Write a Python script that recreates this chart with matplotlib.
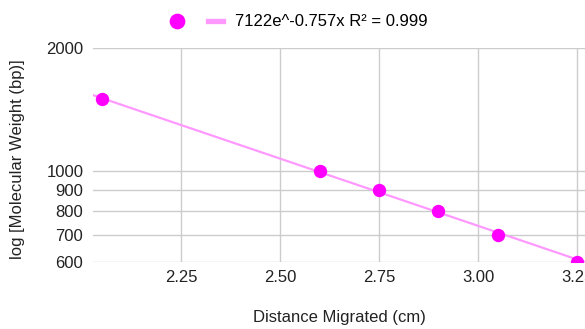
import numpy as np
from matplotlib import pyplot as plt
from matplotlib.lines import Line2D

plt.rcParams['font.family'] = ['Liberation Sans', 'DejaVu Sans']

distance = [2.05, 2.6, 2.75, 2.9, 3.05, 3.25]
weight = [1500, 1000, 900, 800, 700, 600]
fit_a = 7122
fit_b = -0.757
fit_label = '7122e^-0.757x R² = 0.999'
x_ticks = [2.25, 2.50, 2.75, 3.00, 3.25]
y_ticks = [600, 700, 800, 900, 1000, 2000]


def main():
    fig = plt.figure(figsize=(5.85, 3.29), dpi=100)
    ax = fig.add_axes([0.159, 0.204, 0.841, 0.650])
    ax.set_yscale('log')
    x0, x1 = 2.028, 3.270
    ax.set_xlim(x0, x1)
    ax.set_ylim(600, 2000)

    xs = np.linspace(x0, x1, 50)
    ax.plot(xs, fit_a * np.exp(fit_b * xs), c='#ff99ff', lw=1.6, zorder=2)
    ax.plot(distance, weight, 'o', c='#ff00ff', ms=8.6, zorder=3)

    ax.set_xticks(x_ticks)
    ax.set_xticklabels([f'{t:.2f}' for t in x_ticks])
    ax.set_yticks(y_ticks)
    ax.set_yticklabels([str(t) for t in y_ticks])
    ax.minorticks_off()
    ax.tick_params(length=0, labelsize=12, colors='#222222')
    ax.tick_params(axis='y', pad=7)
    ax.tick_params(axis='x', pad=6)
    ax.grid(True, color='#cccccc', lw=1)
    for s in ax.spines.values():
        s.set_visible(False)

    ax.set_xlabel('Distance Migrated (cm)', fontsize=12, color='#222222', labelpad=18)
    fig.text(18 / 585, 1 - 159 / 329, 'log [Molecular Weight (bp)]', rotation=90,
             ha='center', va='center', fontsize=12, color='#222222')

    handles = [Line2D([], [], marker='o', ls='', c='#ff00ff', ms=10.3),
               Line2D([], [], c='#ff99ff', lw=3.8)]
    fig.legend(handles, ['', fit_label], loc='center left',
               bbox_to_anchor=(169.5 / 585, 1 - 22 / 329),
               ncol=2, frameon=False, fontsize=12, handlelength=0.9,
               columnspacing=0.69, handletextpad=0.72,
               borderpad=0, borderaxespad=0)

    fig.savefig('out.png', dpi=100)


if __name__ == "__main__":
    main()
